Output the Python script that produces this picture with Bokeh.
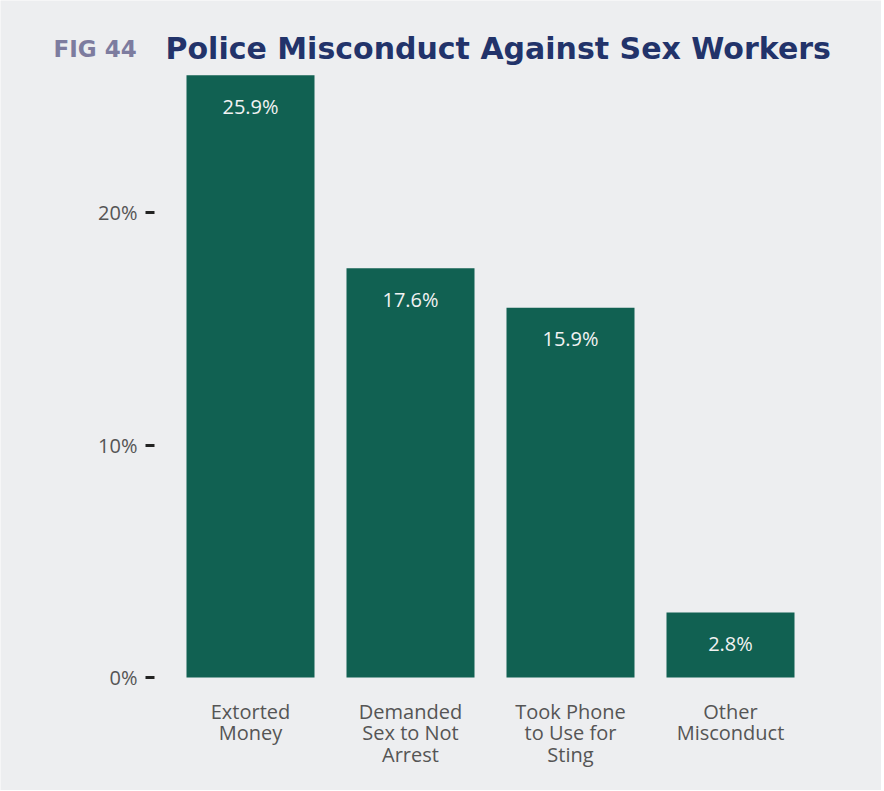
from bokeh.plotting import figure
from bokeh.models import (ColumnDataSource, Range1d, FixedTicker, PrintfTickFormatter,
                          Label, LinearAxis)
from bokeh.core.properties import value
from bokeh.embed import file_html
from bokeh.resources import INLINE

categories = ["Extorted\nMoney", "Demanded\nSex to Not\nArrest", "Took Phone\nto Use for\nSting", "Other\nMisconduct"]
values = [25.9, 17.6, 15.9, 2.8]
value_labels = ["25.9%", "17.6%", "15.9%", "2.8%"]
y_ticks = [0, 10, 20]

BG = "#edeef0"
BAR = "#116152"
FONT = "Open Sans"
TITLE_FONT = "DejaVu Sans"

positions = list(range(1, len(categories) + 1))
src = ColumnDataSource(dict(x=positions, val=values, lab=value_labels))

PX = 23.25  # pixels per percentage point
p = figure(
    width=881, height=790,
    x_range=Range1d(-0.5625, 4.94375),
    y_range=Range1d(-113 / PX, 677 / PX),
    x_axis_location=None, y_axis_location=None,
    output_backend="svg", toolbar_location=None,
    background_fill_color=BG, border_fill_color=BG,
    min_border_left=0, min_border_right=0, min_border_top=0, min_border_bottom=0,
)
p.outline_line_color = None
p.grid.visible = False

p.vbar(x="x", top="val", width=0.8, source=src, fill_color=BAR, line_color=None)
p.text(x="x", y="val", text="lab", source=src, y_offset=31,
       text_align="center", text_baseline="middle", text_color="#f2f2f2",
       text_font=value(FONT), text_font_size="20px")

# y axis, floating at the left of the first bar
ya = LinearAxis(fixed_location=0.4)
ya.ticker = FixedTicker(ticks=y_ticks)
ya.formatter = PrintfTickFormatter(format="%d%%")
ya.axis_line_color = None
ya.major_tick_line_color = "#222222"
ya.major_tick_line_width = 3
ya.major_tick_in = 0
ya.major_tick_out = 9
ya.minor_tick_line_color = None
ya.major_label_standoff = 8
ya.major_label_text_font = FONT
ya.major_label_text_font_size = "20px"
ya.major_label_text_color = "#555555"
p.add_layout(ya, "left")

# x axis with category labels, floating at the 0% line
xa = LinearAxis(fixed_location=0)
xa.ticker = FixedTicker(ticks=positions)
xa.major_label_overrides = dict(zip(positions, categories))
xa.axis_line_color = None
xa.major_tick_line_color = None
xa.minor_tick_line_color = None
xa.major_label_standoff = 14
xa.major_label_text_font = FONT
xa.major_label_text_font_size = "20px"
xa.major_label_text_color = "#555555"
xa.major_label_text_line_height = 0.81
p.add_layout(xa, "below")

# title
y_title = (677 - 48) / PX
p.add_layout(Label(x=-0.23125, y=y_title, text="FIG 44",
                   text_font=TITLE_FONT, text_font_style="bold", text_font_size="23px",
                   text_color="#7d7c9f", text_baseline="alphabetic"))
p.add_layout(Label(x=0.46875, y=y_title,
                   text="Police Misconduct Against Sex Workers",
                   text_font=TITLE_FONT, text_font_style="bold", text_font_size="30px",
                   text_color="#22336a", text_baseline="alphabetic"))

open("out.html", "w").write(file_html(p, INLINE))
